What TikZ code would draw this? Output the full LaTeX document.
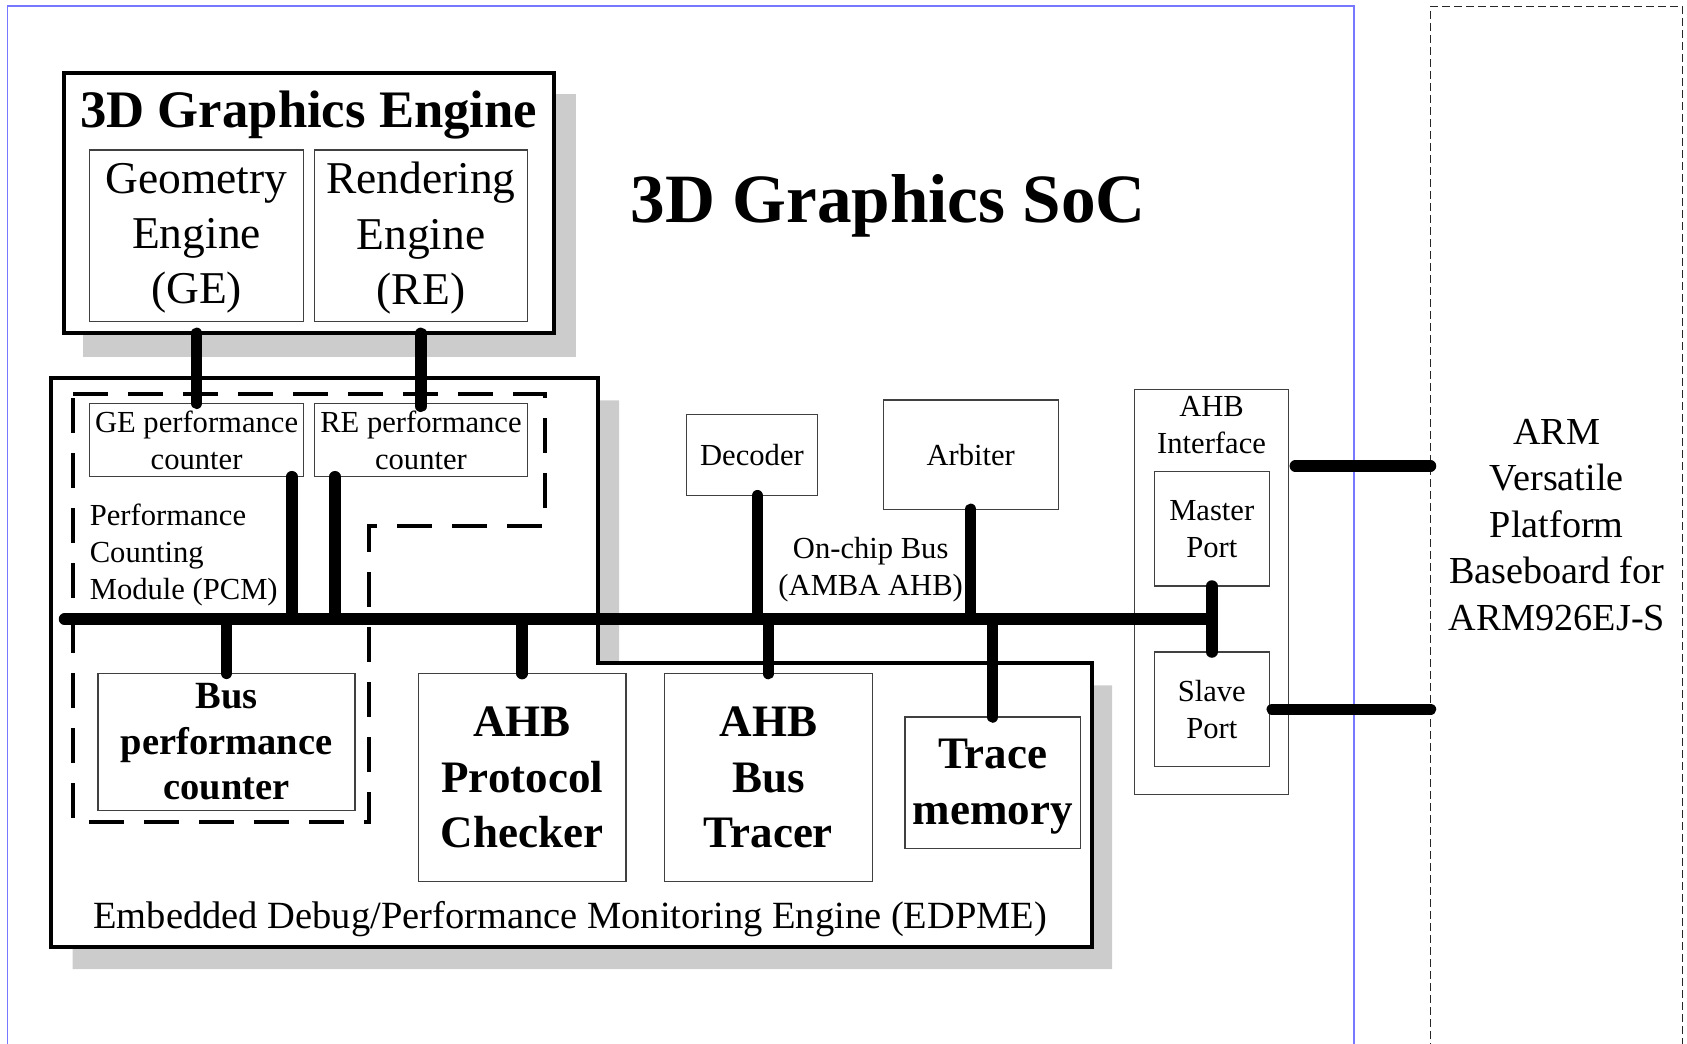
\documentclass[tikz,border=0pt]{standalone}
\usepackage{fontspec}
\setmainfont{Liberation Serif}
\begin{document}
\begin{tikzpicture}[x=1pt,y=-1pt,
  thinbox/.style={draw=black!75, line width=1.3pt, fill=white, inner sep=0pt, outer sep=0pt, align=center},
  thickbox/.style={draw=black, line width=4pt, fill=white, inner sep=0pt, outer sep=0pt},
  conn/.style={line width=11.5pt, line cap=round},
  shadowfill/.style={fill=black!20},
  pcmline/.style={line width=4pt, dash pattern=on 35pt off 20pt},
  txt/.style={inner sep=0pt, outer sep=0pt},
  fSm/.style={font=\fontsize{30.6pt}{37pt}\selectfont},
  fGE/.style={font=\fontsize{45.5pt}{55.3pt}\selectfont},
  fBM/.style={font=\fontsize{38.5pt}{45.5pt}\selectfont\bfseries},
  fBB/.style={font=\fontsize{45pt}{55.5pt}\selectfont\bfseries},
  fEd/.style={font=\fontsize{38.5pt}{46pt}\selectfont},
  fArm/.style={font=\fontsize{38.2pt}{46.5pt}\selectfont},
  fTitle/.style={font=\fontsize{52.7pt}{60pt}\selectfont\bfseries},
  fSoC/.style={font=\fontsize{69.2pt}{80pt}\selectfont\bfseries}
]
\useasboundingbox (0,0) rectangle (1687,1044);

% outer frames
\draw[draw={rgb,255:red,120;green,120;blue,255}, line width=1.5pt] (7.5,1060) -- (7.5,6) -- (1354,6) -- (1354,1060);
\node[draw=black!85, line width=1pt, dash pattern=on 8pt off 4pt, minimum width=251.5pt, minimum height=1100pt, anchor=north west, inner sep=0pt, outer sep=0pt] (arm) at (1430.5,6) {};
\node[txt, fArm, align=center, anchor=north] (armtxt) at (1556.8,419) {ARM\\Versatile\\Platform\\Baseboard for\\ARM926EJ-S};

% title
\node[txt, fSoC, anchor=base] (soc) at (888.3,222.7) {3D Graphics SoC};

% shadows
\fill[shadowfill] (83,94) rectangle (576,357);
\fill[shadowfill] (72.5,400.3) -- (619,400.3) -- (619,685.4) -- (1112,685.4) -- (1112,969) -- (72.5,969) -- cycle;

% 3D graphics engine
\node[thickbox, minimum width=490.5pt, minimum height=260.8pt] (ge3d) at (308.75,202.9) {};
\node[txt, fTitle, anchor=base] (ge3dtitle) at (308.8,127) {3D Graphics Engine};
\node[thinbox, fGE, text depth=5pt, minimum width=213.5pt, minimum height=171.7pt] (geo) at (196.55,235.85) {Geometry\\Engine\\(GE)};
\node[thinbox, fGE, text depth=5pt, minimum width=213.1pt, minimum height=171.7pt] (ren) at (420.95,235.85) {Rendering\\Engine\\(RE)};

% EDPME
\draw[line width=4pt, fill=white] (51.4,378) -- (598,378) -- (598,663.4) -- (1092,663.4) -- (1092,946.7) -- (51.4,946.7) -- cycle;
\node[txt, fEd, anchor=base] (edpme) at (570.3,928) {Embedded Debug/Performance Monitoring Engine (EDPME)};

% PCM dashed region
\draw[pcmline] (73.2,394.3) -- (544.5,394.3) -- (544.5,525.7) -- (368.5,525.7) -- (368.5,822.3) -- (73.2,822.3) -- cycle;
\node[txt, fSm, align=left, anchor=north west] (pcm) at (89.8,504.1) {Performance\\Counting\\Module (PCM)};

\node[thinbox, fSm, minimum width=213.5pt, minimum height=73.4pt] (gepc) at (196.55,440) {GE performance\\counter};
\node[thinbox, fSm, minimum width=213.1pt, minimum height=73.4pt] (repc) at (420.95,440) {RE performance\\counter};
\node[thinbox, fBM, minimum width=257pt, minimum height=137.4pt] (buspc) at (226.5,742) {Bus\\performance\\counter};

\node[thinbox, fBB, minimum width=207.6pt, minimum height=207.8pt] (apc) at (522.2,777.5) {AHB\\Protocol\\Checker};
\node[thinbox, fBB, minimum width=208.2pt, minimum height=207.8pt] (abt) at (768.4,777.5) {AHB\\Bus\\Tracer};
\node[thinbox, font=\fontsize{45pt}{56pt}\selectfont\bfseries, text depth=3pt, minimum width=175.4pt, minimum height=131.6pt] (tmem) at (992.7,782.8) {Trace\\memory};

% bus components
\node[thinbox, fSm, minimum width=131.1pt, minimum height=81.4pt] (dec) at (751.95,455) {Decoder};
\node[thinbox, fSm, minimum width=175pt, minimum height=109.3pt] (arb) at (970.7,454.65) {Arbiter};
\node[txt, fSm, align=center, anchor=north] (onchip) at (870.7,536.9) {On-chip Bus\\(AMBA AHB)};

% AHB interface
\node[thinbox, minimum width=153.5pt, minimum height=405pt] (ahbif) at (1211.55,591.8) {};
\node[txt, fSm, align=center, anchor=north] (ahbiftxt) at (1211.55,396.7) {AHB\\Interface};
\node[thinbox, fSm, minimum width=114.9pt, minimum height=114.3pt] (mport) at (1211.75,528.85) {Master\\Port};
\node[thinbox, fSm, minimum width=114.9pt, minimum height=114.7pt] (sport) at (1211.75,709.35) {Slave\\Port};

% connectors
\coordinate (busL) at (64.5,619.2);
\coordinate (upY) at (0,466);
\draw[conn] (busL) -- (busL -| mport.south);
\draw[conn] (ge3d.south -| gepc.north) -- (gepc.north);
\draw[conn] (ge3d.south -| repc.north) -- ([yshift=-3pt]repc.north);
\draw[conn] ([xshift=-11.5pt]gepc.south east) -- ([xshift=-11.5pt]gepc.south east |- busL);
\draw[conn] ([xshift=20.6pt]repc.south west) -- ([xshift=20.6pt]repc.south west |- busL);
\draw[conn] (buspc.north |- busL) -- (buspc.north);
\draw[conn] (apc.north |- busL) -- (apc.north);
\draw[conn] (abt.north |- busL) -- (abt.north);
\draw[conn] (tmem.north |- busL) -- (tmem.north);
\draw[conn] ([xshift=5.5pt]dec.south) -- ([xshift=5.5pt]dec.south |- busL);
\draw[conn] (arb.south) -- (arb.south |- busL);
\draw[conn] (mport.south) -- (sport.north);
\draw[conn] ([xshift=7pt]ahbif.east |- upY) -- (arm.west |- upY);
\draw[conn] ([xshift=3pt]sport.east) -- (sport.east -| arm.west);
\end{tikzpicture}
\end{document}
